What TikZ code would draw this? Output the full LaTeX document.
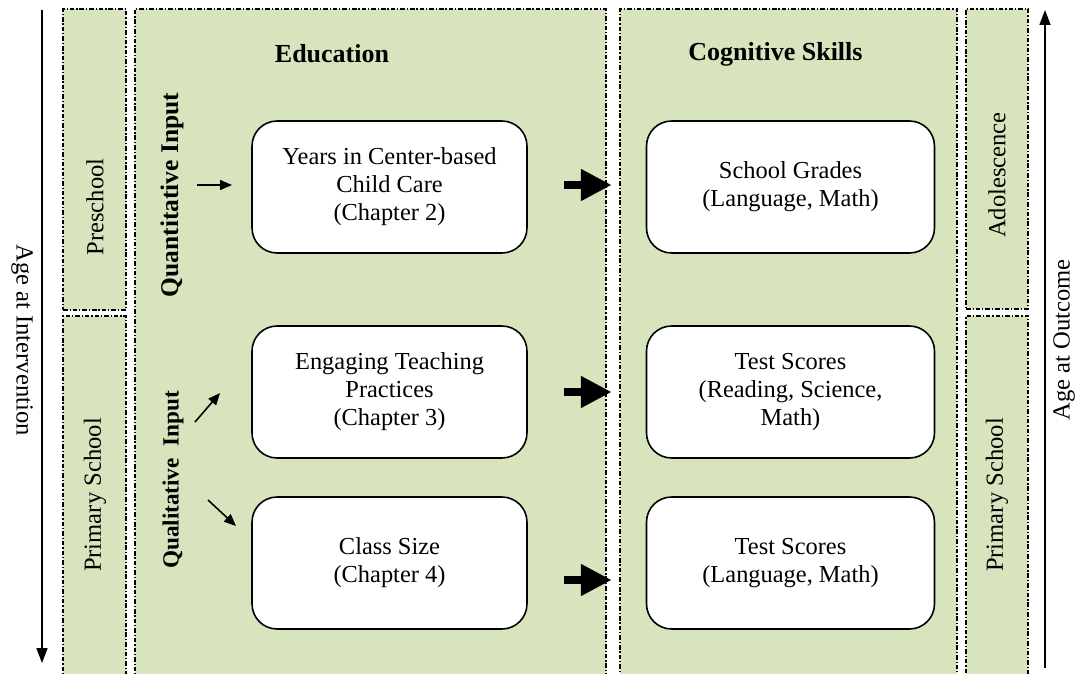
\documentclass[tikz,border=0pt]{standalone}
\usepackage{fontspec}
\setmainfont{Liberation Serif}
\usetikzlibrary{positioning,arrows.meta}

\definecolor{panelgreen}{HTML}{D7E4BD}

\tikzset{
  panel/.style={draw, fill=panelgreen, line width=0.65pt,
    dash pattern=on 2.6pt off 1.1pt on 0.7pt off 1.1pt, inner sep=0pt},
  box/.style={draw, fill=white, rounded corners=0.5cm, line width=0.9pt,
    align=center, minimum height=2.64cm,
    font=\fontsize{13.9}{16}\selectfont},
  heading/.style={font=\fontsize{14.8}{17}\bfseries},
  side/.style={rotate=90, font=\fontsize{14}{16}\selectfont},
  input/.style={rotate=90, font=\fontsize{#1}{16}\bfseries},
  axis/.style={rotate=#1, font=\fontsize{14}{16}\selectfont},
  bigarrow/.style={line width=4.6pt, -{Triangle[length=0.62cm, width=0.6cm]}},
  smallarrow/.style={line width=0.9pt, -{Triangle[length=2.4mm, width=2mm]}},
  axisarrow/.style={line width=0.9pt, -{Triangle[length=3mm, width=2.2mm]}}
}

\begin{document}
\begin{tikzpicture}[x=0.02cm, y=-0.02cm, node distance=2.36cm]
  \useasboundingbox (0,0) rectangle (1075,673);

  % panels
  \node (pre) [panel, minimum width=1.26cm, minimum height=6.02cm] at (94.5,159.5) {};
  \node (prim) [panel, minimum width=1.26cm, minimum height=7.48cm] at (94.5,503) {};
  \node (edu) [panel, minimum width=9.42cm, minimum height=13.62cm] at (370.5,349.5) {};
  \node (cog) [panel, minimum width=6.74cm, minimum height=13.62cm] at (788.5,349.5) {};
  \node (ado) [panel, minimum width=1.24cm, minimum height=6.0cm] at (997,159) {};
  \node (primr) [panel, minimum width=1.24cm, minimum height=7.48cm] at (997,503) {};

  \node (preT) [side] at (95,207) {Preschool};
  \node (primT) [side] at (95,495) {Primary School};
  \node (adoT) [side] at (997,175) {Adolescence};
  \node (primrT) [side] at (997,495) {Primary School};

  \node (eduT) [heading] at (332,54) {Education};
  \node (cogT) [heading] at (775.5,54) {Cognitive Skills};

  \node (quan) [input=14.5] at (172,195) {Quantitative Input};
  \node (qual) [input=13.2] at (173,480) {Qualitative\ \ Input};

  % boxes
  \node (1) [box, minimum width=5.5cm] at (389.5,187) {Years in Center-based\\Child Care\\(Chapter 2)};
  \node (2) [box, minimum width=5.5cm] at (389.5,392) {Engaging Teaching\\Practices\\(Chapter 3)};
  \node (3) [box, minimum width=5.5cm] at (389.5,563) {Class Size\\(Chapter 4)};
  \node (4) [box, minimum width=5.76cm, right = of 1] {School Grades\\(Language, Math)};
  \node (5) [box, minimum width=5.76cm, right = of 2] {Test Scores\\(Reading, Science,\\Math)};
  \node (6) [box, minimum width=5.76cm, right = of 3] {Test Scores\\(Language, Math)};

  \path[bigarrow, shorten <=0.72cm, shorten >=0.68cm]
  ([yshift=0.04cm]1.east) edge ([yshift=0.04cm]4.west)
  (2.east) edge (5.west)
  ([yshift=-0.34cm]3.east) edge ([yshift=-0.34cm]6.west);

  % input arrows
  \coordinate (q1) at (197,185);
  \coordinate (q2) at (195,422);
  \coordinate (q3) at (208,500);
  \draw[smallarrow] (q1) -- ++(35,0);
  \draw[smallarrow] (q2) -- ++(25,-29);
  \draw[smallarrow] (q3) -- ++(28,26);

  % age axes
  \coordinate (inTop) at (42,10);
  \coordinate (inBot) at (42,663);
  \coordinate (outBot) at (1045,668);
  \coordinate (outTop) at (1045,10);
  \draw[axisarrow] (inTop) -- (inBot);
  \draw[axisarrow] (outBot) -- (outTop);
  \node (inT) [axis=-90] at (22,340) {Age at Intervention};
  \node (outT) [axis=90] at (1064,340) {Age at Outcome};
\end{tikzpicture}
\end{document}
